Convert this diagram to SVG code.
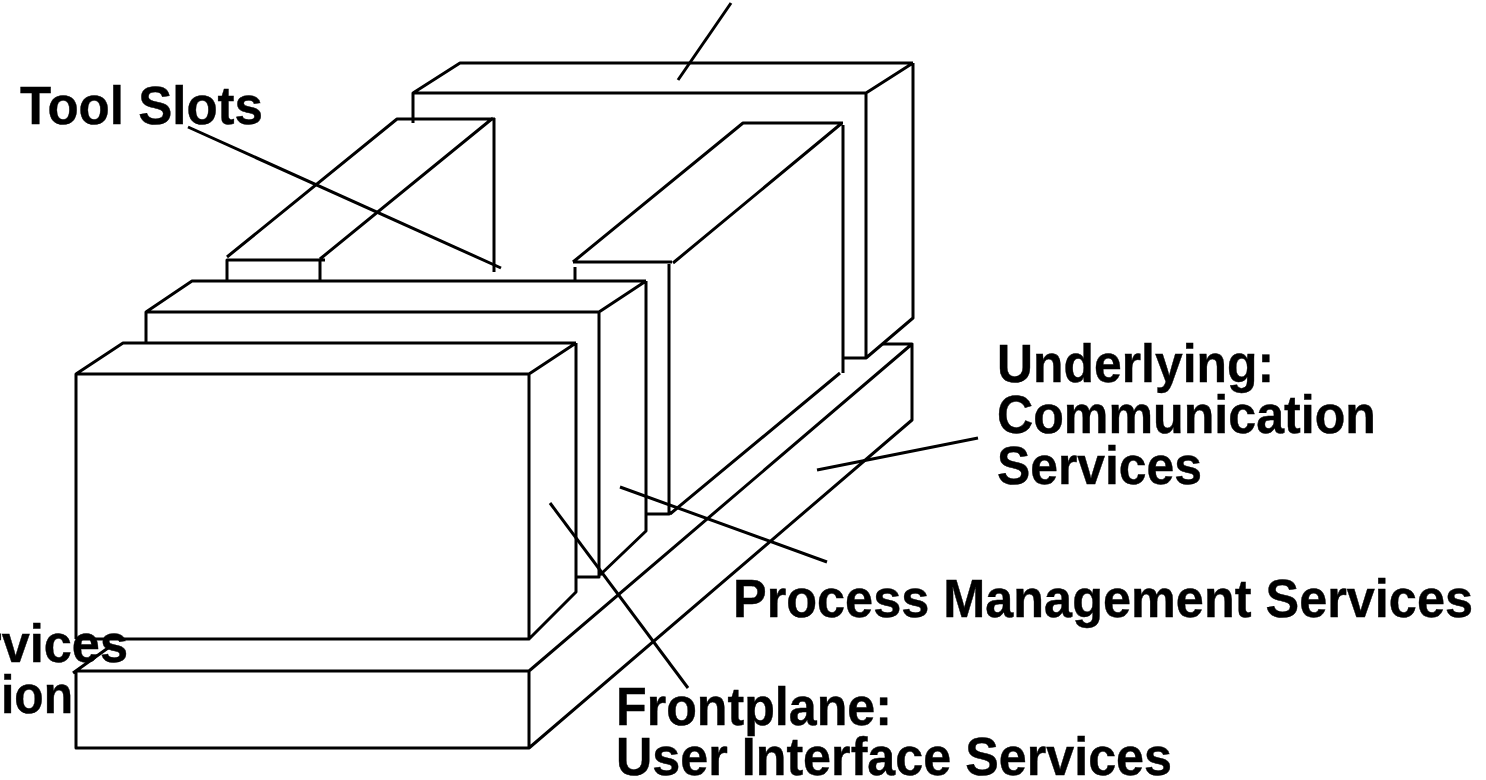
<svg xmlns="http://www.w3.org/2000/svg" width="1486" height="780" viewBox="0 0 1486 780">
<style>
.l{fill:none;stroke:#000;stroke-width:3;stroke-linejoin:round}
.c{fill:none;stroke:#000;stroke-width:3}
text{font-family:"Liberation Sans",Arial,sans-serif;font-weight:700;font-size:53px;fill:#000;stroke:#000;stroke-width:.4}
</style>
<rect width="1486" height="780" fill="#fff"/>
<g id="labels">
<text x="20" y="124" textLength="243" lengthAdjust="spacingAndGlyphs">Tool Slots</text>
<text x="997" y="382" textLength="277" lengthAdjust="spacingAndGlyphs">Underlying:</text>
<text x="997" y="433" textLength="379" lengthAdjust="spacingAndGlyphs">Communication</text>
<text x="997" y="484" textLength="205" lengthAdjust="spacingAndGlyphs">Services</text>
<text x="733" y="617" textLength="740" lengthAdjust="spacingAndGlyphs">Process Management Services</text>
<text x="616" y="725" textLength="276" lengthAdjust="spacingAndGlyphs">Frontplane:</text>
<text x="616" y="775" textLength="556" lengthAdjust="spacingAndGlyphs">User Interface Services</text>
<text x="128" y="662" text-anchor="end" textLength="146" lengthAdjust="spacingAndGlyphs">rvices</text>
<text x="73" y="713" text-anchor="end" textLength="72" lengthAdjust="spacingAndGlyphs">ion</text>
</g>
<g id="backplane" class="l">
<path d="M413 123V93H866M413 93L460 63H913M866 93L913 63M866 93V358H843M913 63V318L866 358"/>
</g>
<g id="process-slab" class="l">
<path d="M575 281V267M573 262H672M573 262L743 123H843M673 263L842 123M669 264V514H647M843 125V373M840 373L670 514"/>
</g>
<g id="tool-slots" class="l">
<path d="M227 281V260H325M227 257L397 119H495M320 281V260M320 259L493 118M494 118V272"/>
</g>
<g id="middle-block" class="l">
<path d="M146 342V312H599M146 312L192 281H646M599 312L646 281M599 312V577H577M646 281V531L600 575"/>
</g>
<g id="front-block" class="l">
<path d="M76 639V374H529M76 374L123 343H576M529 374L576 343M529 374V639H76M576 343V592L529 639"/>
</g>
<g id="base" class="l">
<path d="M73 673L108 648M76 671H529V748H76V671M529 671L912 344H883M912 344V420L529 748"/>
</g>
<g id="connectors" class="c">
<path d="M731 3L678 80"/>
<path d="M188 127L501 268"/>
<path d="M817 470L978 438"/>
<path d="M620 487L827 562"/>
<path d="M550 503L688 688"/>
</g>
</svg>
